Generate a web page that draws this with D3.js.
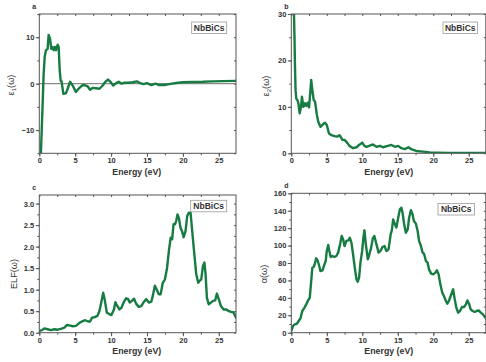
<!DOCTYPE html>
<html>
<head>
<meta charset="utf-8">
<title>NbBiCs optical properties</title>
<style>
  body { margin: 0; background: #fff; }
  svg { display: block; font-family: "Liberation Sans", Arial, sans-serif; }
  .tick text { font-size: 7.5px; fill: #333; font-weight: bold; }
  .tick line { stroke: #555; }
  .frame { fill: none; stroke: #555; stroke-width: 1; }
  .curve { fill: none; stroke: #167c42; stroke-width: 2.4; stroke-linejoin: round; stroke-linecap: round; }
  .zero { stroke: #8a8a8a; stroke-width: 1.3; }
  .title { font-size: 8.8px; font-weight: bold; fill: #333; }
  .ytitle { font-size: 9.2px; fill: #333; }
  .letter { font-size: 7px; font-weight: bold; fill: #333; }
  .tag text { font-size: 8.5px; font-weight: bold; fill: #333; }
  .tag rect { fill: #fff; stroke: #999; stroke-width: 0.8; }
</style>
</head>
<body>
<svg width="486" height="362"></svg>
<script src="https://cdn.jsdelivr.net/npm/d3@7"></script>
<script>
// shared x axis
var energyDomain = [0, 27.4];
var energyTicks = [0, 5, 10, 15, 20, 25];

// (a) real part of dielectric function
var eps1Energy = [0.2, 0.45, 0.6, 0.75, 0.93, 1.16, 1.3, 1.49, 1.67, 1.86, 2.0, 2.19, 2.33, 2.56, 2.7, 2.84, 2.98, 3.1, 3.35, 3.7, 3.95, 4.28, 4.65, 5.1, 5.6, 5.95, 6.3, 6.75, 7.07, 7.44, 7.9, 8.37, 8.84, 9.2, 9.58, 9.9, 10.3, 10.7, 11.07, 11.44, 11.9, 12.47, 13.0, 13.6, 14.05, 14.5, 15.0, 15.6, 16.2, 16.7, 17.4, 18.1, 19.1, 20.0, 21.4, 22.8, 24.2, 25.6, 27.4];
var eps1Values = [-16, -5, 2, 5.8, 7.2, 7.5, 10.5, 9.7, 7.5, 7.9, 7.2, 7.9, 7.2, 8.4, 7.9, 2.9, 0.6, 0.5, -2.2, -2.1, -1.1, 0.4, -0.4, -1.8, -0.9, -0.4, -0.3, -0.6, -1.3, -0.9, -1.0, -1.1, -0.4, 0.4, 0.9, 0.4, -0.4, 0.1, 0.4, 0, 0.2, 0.2, 0.3, 0.5, 0.1, -0.1, 0.1, -0.3, 0, -0.3, -0.3, -0.1, 0.15, 0.3, 0.35, 0.4, 0.5, 0.55, 0.6];
var eps1Ticks = [-10, 0, 10];

// (b) imaginary part of dielectric function
var eps2Energy = [0.35, 0.45, 0.52, 0.6, 0.7, 0.85, 1.0, 1.18, 1.37, 1.5, 1.7, 1.9, 2.1, 2.3, 2.5, 2.7, 2.8, 2.97, 3.15, 3.35, 3.6, 3.8, 4.1, 4.5, 4.75, 5.0, 5.3, 5.65, 6.1, 6.5, 6.8, 7.2, 7.5, 7.86, 8.2, 8.7, 9.2, 9.55, 10.0, 10.3, 10.6, 11.06, 11.5, 12.0, 12.5, 12.9, 13.6, 14.1, 14.6, 15.06, 15.5, 16.0, 16.5, 16.9, 17.6, 18.6, 19.5, 20.5, 22.4, 24.2, 27.4];
var eps2Values = [32, 25, 18.7, 13.6, 11.8, 11.5, 10.8, 8.6, 10, 12.2, 10, 10.8, 10.2, 10.9, 9.9, 13.6, 15.8, 13.6, 11.5, 11.1, 8.3, 6.8, 5.7, 6.3, 6.6, 6.1, 4.3, 3.9, 3.7, 3.6, 3.9, 2.9, 2.9, 2.3, 1.6, 1.1, 1.3, 1.8, 2.3, 1.6, 1.4, 1.65, 1.9, 1.4, 1.6, 1.3, 1.6, 1.8, 1.4, 1.6, 1.1, 0.9, 1.3, 0.9, 0.5, 0.35, 0.2, 0.15, 0.07, 0.06, 0.05];
var eps2Ticks = [0, 10, 20, 30];

// (c) electron energy loss function
var elfEnergy = [0, 0.37, 0.7, 1.16, 1.6, 2.1, 2.56, 3.0, 3.5, 3.86, 4.2, 4.65, 5.1, 5.6, 6.05, 6.4, 6.8, 7.07, 7.35, 7.7, 8.1, 8.37, 8.65, 8.9, 9.1, 9.4, 9.77, 10.05, 10.4, 10.6, 10.8, 11.16, 11.44, 11.8, 12.1, 12.37, 12.6, 12.9, 13.2, 13.5, 13.86, 14.2, 14.5, 14.9, 15.26, 15.6, 15.8, 16.1, 16.37, 16.65, 16.9, 17.2, 17.5, 17.8, 18.05, 18.3, 18.5, 18.7, 18.9, 19.07, 19.26, 19.44, 19.67, 19.9, 20.1, 20.37, 20.6, 20.84, 21.07, 21.3, 21.6, 21.86, 22.14, 22.3, 22.56, 22.8, 23.0, 23.16, 23.35, 23.6, 23.9, 24.2, 24.5, 24.74, 25.0, 25.3, 25.67, 26.05, 26.4, 26.8, 27.07, 27.4];
var elfValues = [0.04, 0.06, 0.1, 0.08, 0.06, 0.08, 0.07, 0.09, 0.12, 0.18, 0.17, 0.15, 0.16, 0.23, 0.27, 0.29, 0.26, 0.26, 0.35, 0.36, 0.39, 0.5, 0.72, 0.93, 0.78, 0.47, 0.43, 0.41, 0.54, 0.71, 0.64, 0.54, 0.58, 0.72, 0.8, 0.78, 0.7, 0.74, 0.79, 0.67, 0.6, 0.62, 0.7, 0.78, 0.7, 0.72, 0.85, 1.09, 1.0, 0.89, 0.89, 1.16, 1.24, 1.51, 1.9, 2.21, 2.17, 2.52, 2.52, 2.6, 2.75, 2.67, 2.44, 2.35, 2.22, 2.36, 2.71, 2.79, 2.79, 2.36, 1.82, 1.36, 1.16, 1.2, 1.24, 1.55, 1.63, 1.36, 0.81, 0.66, 0.7, 0.74, 0.75, 0.91, 0.78, 0.62, 0.54, 0.54, 0.5, 0.48, 0.47, 0.35];
var elfTicks = [0, 0.5, 1.0, 1.5, 2.0, 2.5, 3.0];

// (d) absorption coefficient
var absEnergy = [0, 0.24, 0.47, 0.8, 1.08, 1.3, 1.55, 1.8, 2.1, 2.35, 2.6, 2.8, 2.96, 3.15, 3.3, 3.5, 3.7, 3.9, 4.1, 4.4, 4.6, 4.85, 5.0, 5.2, 5.36, 5.55, 5.8, 6.07, 6.35, 6.6, 6.87, 7.1, 7.3, 7.5, 7.76, 8.05, 8.24, 8.47, 8.7, 8.94, 9.18, 9.36, 9.55, 9.74, 9.98, 10.16, 10.3, 10.5, 10.78, 11.0, 11.25, 11.48, 11.7, 12.0, 12.3, 12.56, 12.85, 13.13, 13.4, 13.7, 14.0, 14.16, 14.35, 14.6, 14.8, 15.06, 15.3, 15.5, 15.67, 15.9, 16.14, 16.4, 16.6, 16.85, 17.08, 17.27, 17.55, 17.8, 18.0, 18.26, 18.5, 18.7, 18.96, 19.2, 19.4, 19.7, 20.0, 20.3, 20.5, 20.75, 21.0, 21.27, 21.5, 21.74, 21.98, 22.2, 22.45, 22.7, 22.8, 23.0, 23.25, 23.5, 23.76, 24.05, 24.33, 24.6, 24.8, 25.03, 25.27, 25.55, 25.84, 26.1, 26.4, 26.7, 27.0, 27.4];
var absValues = [2, 7.7, 9.6, 10.3, 14, 16.5, 24.9, 28, 32.5, 37, 40, 59, 74.6, 75.4, 78.5, 85.4, 83, 77.7, 70.8, 71.6, 76.6, 82.3, 93.8, 100.7, 93.8, 86.9, 88, 86.9, 88, 91.9, 101.4, 111, 107.2, 99.5, 105.3, 106, 109, 103.3, 90, 74.6, 61.2, 58.6, 63.2, 80.4, 93.8, 109, 117.5, 101.4, 84.2, 90, 97.6, 108.3, 111, 101.4, 91.9, 93.8, 98.4, 99.5, 93.8, 95.7, 113, 117.5, 130, 124.4, 120.6, 132, 141.6, 143.5, 137.8, 124.4, 114.8, 118.6, 132, 140.5, 135.9, 128.2, 125.2, 116.7, 105.3, 99.5, 91.9, 90.7, 82.3, 80.4, 72.7, 67.8, 67, 68.9, 71.6, 67, 55.5, 45.9, 42.1, 37.1, 33.3, 36.4, 42.1, 47.8, 49.8, 39.4, 28.7, 23, 24.9, 29.5, 29.5, 32.5, 37.1, 33.3, 26.8, 24.9, 23.7, 24.9, 25.6, 23, 21, 16.5];
var absTicks = [0, 20, 40, 60, 80, 100, 120, 140, 160];

var svg = d3.select("svg");

var panels = [
  { id: "a", left: 39.3, top: 14, w: 196.7, h: 139.3, energy: eps1Energy, values: eps1Values, domain: [-15, 15], ticks: eps1Ticks, fmt: d3.format("d"), zero: true, ylab: ["ε", "1", "(ω)"], ylabX: 10.5, ylabY: 85, tag: [191.7, 22, 35, 11.5] },
  { id: "b", left: 291.3, top: 14, w: 194.5, h: 139.3, energy: eps2Energy, values: eps2Values, domain: [0, 30], ticks: eps2Ticks, fmt: d3.format("d"), ylab: ["ε", "2", "(ω)"], ylabX: 266, ylabY: 86, tag: [443, 22, 34.5, 11.5] },
  { id: "c", left: 39.3, top: 195, w: 196.7, h: 137.7, energy: elfEnergy, values: elfValues, domain: [0, 3.2], ticks: elfTicks, fmt: d3.format(".1f"), ylab: ["ELF", null, "(ω)"], ylabX: 14, ylabY: 274, tag: [190.7, 200.3, 36, 11.5] },
  { id: "d", left: 291.3, top: 193.3, w: 194.5, h: 139.4, energy: absEnergy, values: absValues, domain: [0, 160], ticks: absTicks, fmt: d3.format("d"), ylab: ["α", null, "(ω)"], ylabX: 264, ylabY: 274, tag: [438, 203.5, 36.5, 11.5] }
];

panels.forEach(function (p) {
  var x = d3.scaleLinear().domain(energyDomain).range([0, p.w]);
  var y = d3.scaleLinear().domain(p.domain).range([p.h, 0]);
  var step = p.ticks[1] - p.ticks[0];
  var minorY = d3.range(p.domain[0], p.domain[1] + 1e-9, step / 2);
  var minorX = d3.range(0, energyDomain[1], 2.5);

  var g = svg.append("g").attr("transform", "translate(" + p.left + "," + p.top + ")");

  svg.append("clipPath").attr("id", "clip-" + p.id)
    .append("rect").attr("width", p.w).attr("height", p.h);

  // minor ticks (outside bottom/left, inside top/right)
  g.append("g").attr("transform", "translate(0," + p.h + ")")
    .call(d3.axisBottom(x).tickValues(minorX).tickSize(2).tickFormat(""))
    .call(function (s) { s.select(".domain").remove(); });
  g.append("g")
    .call(d3.axisLeft(y).tickValues(minorY).tickSize(2).tickFormat(""))
    .call(function (s) { s.select(".domain").remove(); });
  g.append("g")
    .call(d3.axisTop(x).tickValues(minorX).tickSize(-2).tickFormat(""))
    .call(function (s) { s.select(".domain").remove(); });
  g.append("g").attr("transform", "translate(" + p.w + ",0)")
    .call(d3.axisRight(y).tickValues(minorY).tickSize(-2).tickFormat(""))
    .call(function (s) { s.select(".domain").remove(); });

  // major ticks + labels
  g.append("g").attr("transform", "translate(0," + p.h + ")")
    .call(d3.axisBottom(x).tickValues(energyTicks).tickSize(3.5).tickPadding(1))
    .call(function (s) { s.select(".domain").remove(); });
  g.append("g")
    .call(d3.axisLeft(y).tickValues(p.ticks).tickSize(3.5).tickPadding(1.5).tickFormat(p.fmt))
    .call(function (s) { s.select(".domain").remove(); });

  if (p.zero) {
    g.append("line").attr("class", "zero")
      .attr("x1", 0).attr("x2", p.w).attr("y1", y(0)).attr("y2", y(0));
  }

  var line = d3.line()
    .x(function (d, i) { return x(p.energy[i]); })
    .y(function (d) { return y(d); });

  g.append("path").attr("class", "curve")
    .attr("clip-path", "url(#clip-" + p.id + ")")
    .attr("d", line(p.values));

  g.append("rect").attr("class", "frame").attr("width", p.w).attr("height", p.h);

  // panel letter
  svg.append("text").attr("class", "letter")
    .attr("x", p.left - 7).attr("y", p.top - 5).text(p.id);

  // x title
  svg.append("text").attr("class", "title")
    .attr("x", p.left + 97.5).attr("y", p.top + p.h + 21.5)
    .attr("text-anchor", "middle").text("Energy (eV)");

  // y title
  var yt = svg.append("text").attr("class", "ytitle")
    .attr("transform", "translate(" + p.ylabX + "," + p.ylabY + ") rotate(-90)")
    .attr("text-anchor", "middle").attr("dy", "0.35em");
  yt.append("tspan").text(p.ylab[0]);
  if (p.ylab[1]) {
    yt.append("tspan").attr("font-size", "6px").attr("dy", "2").text(p.ylab[1]);
    yt.append("tspan").attr("dy", "-2").text(p.ylab[2]);
  } else {
    yt.append("tspan").text(p.ylab[2]);
  }

  // sample tag
  var tg = svg.append("g").attr("class", "tag");
  tg.append("rect").attr("x", p.tag[0]).attr("y", p.tag[1]).attr("width", p.tag[2]).attr("height", p.tag[3]);
  tg.append("text").attr("x", p.tag[0] + p.tag[2] / 2).attr("y", p.tag[1] + p.tag[3] / 2)
    .attr("dy", "0.35em").attr("text-anchor", "middle").text("NbBiCs");
});
</script>
</body>
</html>
